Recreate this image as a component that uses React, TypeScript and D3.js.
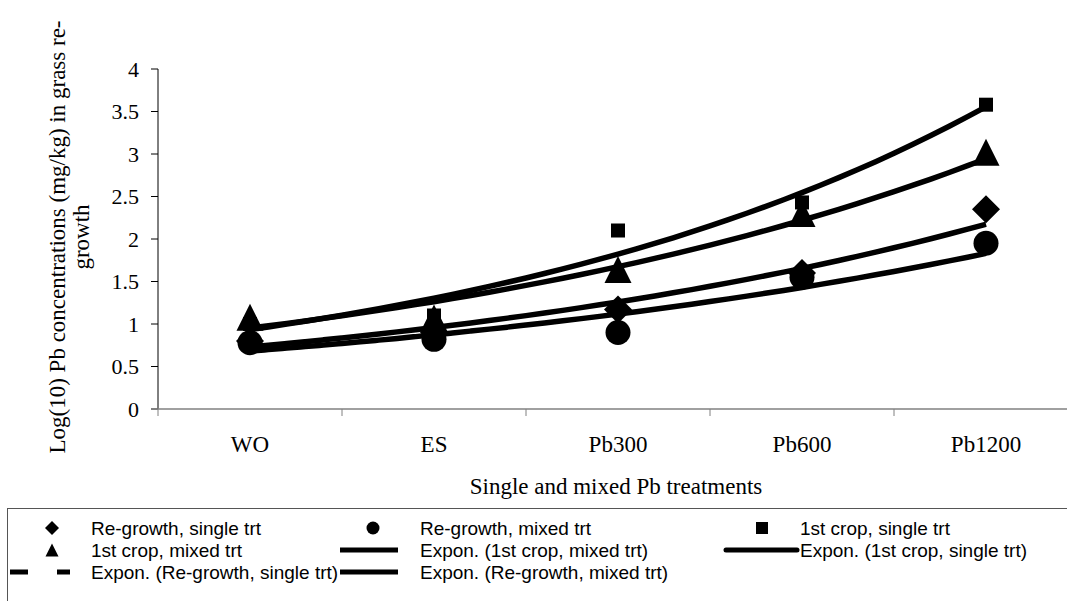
import React from "react";
import * as d3 from "d3";

const categories = ["WO", "ES", "Pb300", "Pb600", "Pb1200"];
const regrowthSingle = [0.8, 0.9, 1.17, 1.6, 2.35];
const regrowthMixed = [0.78, 0.82, 0.9, 1.55, 1.95];
const firstSingle = [1.0, 1.1, 2.1, 2.43, 3.58];
const firstMixed = [1.08, 1.07, 1.64, 2.3, 3.02];
const yTicks = [0, 0.5, 1, 1.5, 2, 2.5, 3, 3.5, 4];

const SERIF = "'Liberation Serif', 'Times New Roman', serif";
const SANS = "'Liberation Sans', Arial, sans-serif";

function expFit(vals: number[]) {
  const xs = vals.map((_, i) => i + 1);
  const ls = vals.map((v) => Math.log(v));
  const mx = d3.mean(xs)!;
  const ml = d3.mean(ls)!;
  let num = 0, den = 0;
  xs.forEach((x, i) => { num += (x - mx) * (ls[i] - ml); den += (x - mx) * (x - mx); });
  const b = num / den;
  const lnA = ml - b * mx;
  return (x: number) => Math.exp(lnA + b * x);
}

function Marker({ type, x, y, s }: { type: string; x: number; y: number; s: number }) {
  if (type === "diamond") {
    const h = s / 2;
    return <path d={`M${x},${y - h}L${x + h},${y}L${x},${y + h}L${x - h},${y}Z`} fill="#000" />;
  }
  if (type === "circle") return <circle cx={x} cy={y} r={s / 2} fill="#000" />;
  if (type === "square") return <rect x={x - s / 2} y={y - s / 2} width={s} height={s} fill="#000" />;
  const h = s / 2;
  return <path d={`M${x},${y - h}L${x + h},${y + h}L${x - h},${y + h}Z`} fill="#000" />;
}

export default function App() {
  const W = 1067, H = 601;
  const x = d3.scaleBand<string>().domain(categories).range([158, 1078]);
  const y = d3.scaleLinear().domain([0, 4]).range([409, 69]);
  const cx = (i: number) => x(categories[i])! + x.bandwidth() / 2;
  const xc = d3.scaleLinear().domain([1, 5]).range([cx(0), cx(4)]);

  const series = [
    { name: "Re-growth, single trt", vals: regrowthSingle, m: "diamond", s: 28 },
    { name: "Re-growth, mixed trt", vals: regrowthMixed, m: "circle", s: 25 },
    { name: "1st crop, single trt", vals: firstSingle, m: "square", s: 14 },
    { name: "1st crop, mixed trt", vals: firstMixed, m: "triangle", s: 27 },
  ];

  const line = d3.line<[number, number]>().x((d) => xc(d[0])).y((d) => y(d[1])).curve(d3.curveMonotoneX);
  const trend = (vals: number[]) => {
    const f = expFit(vals);
    const pts: [number, number][] = d3.range(0, 41).map((k) => {
      const t = 1 + (4 * k) / 40;
      return [t, f(t)];
    });
    return line(pts)!;
  };

  const trends = [
    { vals: firstMixed, cap: "butt" },
    { vals: firstSingle, cap: "round" },
    { vals: regrowthSingle, cap: "butt" },
    { vals: regrowthMixed, cap: "butt" },
  ];

  const lx = [52, 373, 762];
  const tx = [91, 420, 800];
  const rows = [535, 557, 579];
  const mo = 7;

  return (
    <svg width={W} height={H} style={{ position: "absolute", left: 0, top: 0, background: "#fff" }}>
      <rect x={0} y={0} width={W} height={H} fill="#fff" />
      {/* y axis */}
      <line x1={158} x2={158} y1={69} y2={409} stroke="#000" strokeWidth={1} />
      {yTicks.map((t) => (
        <g key={t}>
          <line x1={151} x2={158} y1={y(t)} y2={y(t)} stroke="#000" />
          <text x={139} y={y(t)} dy="0.35em" textAnchor="end" fontFamily={SERIF} fontSize={22}>
            {t}
          </text>
        </g>
      ))}
      {/* x axis */}
      <line x1={151} x2={1080} y1={409} y2={409} stroke="#808080" strokeWidth={1.5} />
      {categories.map((c, i) => (
        <g key={c}>
          <line x1={x(c)!} x2={x(c)!} y1={409} y2={416} stroke="#808080" />
          <text x={cx(i)} y={452} textAnchor="middle" fontFamily={SERIF} fontSize={23}>
            {c}
          </text>
        </g>
      ))}
      <text x={616} y={494} textAnchor="middle" fontFamily={SERIF} fontSize={23}>
        Single and mixed Pb treatments
      </text>
      <g transform="translate(65,237) rotate(-90)" fontFamily={SERIF} fontSize={23}>
        <text x={0} y={0} textAnchor="middle">Log(10) Pb concentrations (mg/kg) in grass re-</text>
        <text x={0} y={24} textAnchor="middle">growth</text>
      </g>

      {/* markers */}
      {series.map((s) =>
        s.vals.map((v, i) => <Marker key={s.name + i} type={s.m} x={cx(i)} y={y(v)} s={s.s} />)
      )}
      {/* trend lines */}
      {trends.map((t, i) => (
        <path key={i} d={trend(t.vals)} fill="none" stroke="#000" strokeWidth={5.5} strokeLinecap={t.cap as any} />
      ))}

      {/* legend */}
      <rect x={7.5} y={508.5} width={1100} height={200} fill="none" stroke="#555" strokeWidth={1} />
      <g fontFamily={SANS} fontSize={19}>
        <Marker type="diamond" x={lx[0]} y={rows[0] - mo} s={14} />
        <text x={tx[0]} y={rows[0]}>Re-growth, single trt</text>
        <Marker type="circle" x={lx[1]} y={rows[0] - mo} s={13} />
        <text x={tx[1]} y={rows[0]}>Re-growth, mixed trt</text>
        <Marker type="square" x={lx[2]} y={rows[0] - mo} s={12} />
        <text x={tx[2]} y={rows[0]}>1st crop, single trt</text>

        <Marker type="triangle" x={lx[0]} y={rows[1] - mo} s={13} />
        <text x={tx[0]} y={rows[1]}>1st crop, mixed trt</text>
        <line x1={340} x2={398} y1={rows[1] - mo} y2={rows[1] - mo} stroke="#000" strokeWidth={5} />
        <text x={tx[1]} y={rows[1]}>Expon. (1st crop, mixed trt)</text>
        <line x1={726} x2={797} y1={rows[1] - mo} y2={rows[1] - mo} stroke="#000" strokeWidth={5} strokeLinecap="round" />
        <text x={tx[2]} y={rows[1]}>Expon. (1st crop, single trt)</text>

        <line x1={10} x2={70} y1={rows[2] - mo} y2={rows[2] - mo} stroke="#000" strokeWidth={5} strokeDasharray="18,29" />
        <text x={tx[0]} y={rows[2]}>Expon. (Re-growth, single trt)</text>
        <line x1={340} x2={398} y1={rows[2] - mo} y2={rows[2] - mo} stroke="#000" strokeWidth={5} />
        <text x={tx[1]} y={rows[2]}>Expon. (Re-growth, mixed trt)</text>
      </g>
    </svg>
  );
}
